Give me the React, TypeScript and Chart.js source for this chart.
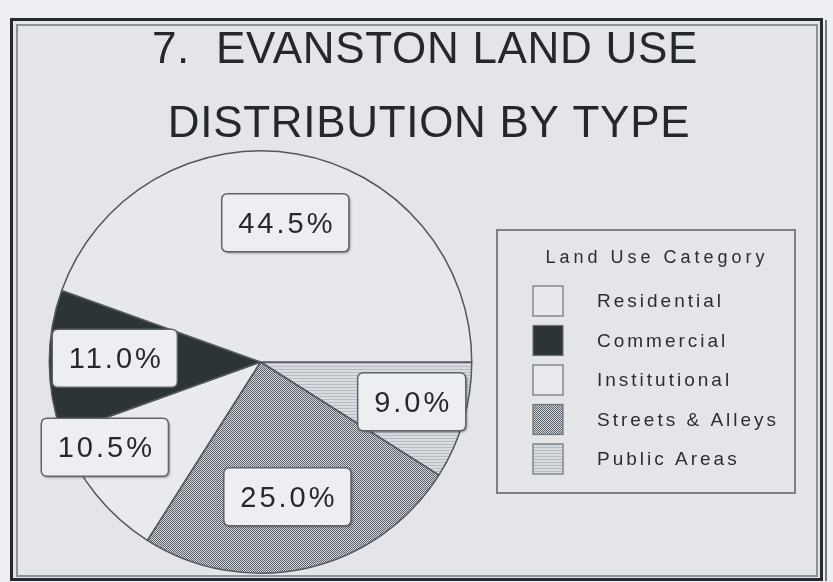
import React, { useEffect, useRef } from 'react';
import { Chart, registerables } from 'chart.js';

Chart.register(...registerables);

// ---- data (pie is drawn clockwise from 3 o'clock in this order) ----
const categories = ['Public Areas', 'Streets & Alleys', 'Institutional', 'Commercial', 'Residential'];
const shares = [9.0, 25.0, 10.5, 11.0, 44.5];
const titleLines = ['7.  EVANSTON LAND USE', 'DISTRIBUTION BY TYPE'];
const legendTitle = 'Land Use Category';
const legendOrder = [4, 3, 2, 1, 0];

// ---- label placement (style only) ----
const labelRadius = [0.74, 0.65, 0.84, 0.69, 0.67];
const labelTurnDeg = [-1.5, 1.3, 10, 1.5, 0.2];

const BG = '#e3e5e9';
const PAGE = '#eceef1';
const INK = '#24272c';
const FONT = '"Liberation Sans", Arial, Helvetica, sans-serif';

function tile(w: number, h: number, paint: (c: CanvasRenderingContext2D) => void): CanvasPattern | string {
  const cv = document.createElement('canvas');
  cv.width = w;
  cv.height = h;
  const c = cv.getContext('2d');
  if (!c) return '#cccccc';
  paint(c);
  const p = c.createPattern(cv, 'repeat');
  return p || '#cccccc';
}

function makeFills(): (CanvasPattern | string)[] {
  const publicAreas = tile(4, 3, (c) => {
    c.fillStyle = '#d8dbdf';
    c.fillRect(0, 0, 4, 3);
    c.fillStyle = '#b7bbc1';
    c.fillRect(0, 0, 4, 1);
  });
  const streets = tile(2, 2, (c) => {
    c.fillStyle = '#d2d5d9';
    c.fillRect(0, 0, 2, 2);
    c.fillStyle = '#5d6269';
    c.fillRect(0, 0, 1, 1);
    c.fillRect(1, 1, 1, 1);
  });
  return [publicAreas, streets, '#e8eaed', '#2c3437', '#e6e8eb'];
}

function roundRect(ctx: CanvasRenderingContext2D, x: number, y: number, w: number, h: number, r: number) {
  ctx.beginPath();
  ctx.moveTo(x + r, y);
  ctx.lineTo(x + w - r, y);
  ctx.quadraticCurveTo(x + w, y, x + w, y + r);
  ctx.lineTo(x + w, y + h - r);
  ctx.quadraticCurveTo(x + w, y + h, x + w - r, y + h);
  ctx.lineTo(x + r, y + h);
  ctx.quadraticCurveTo(x, y + h, x, y + h - r);
  ctx.lineTo(x, y + r);
  ctx.quadraticCurveTo(x, y, x + r, y);
  ctx.closePath();
}

const framePlugin = {
  id: 'frameAndTitle',
  beforeDraw(chart: any) {
    const ctx: CanvasRenderingContext2D = chart.ctx;
    const W = chart.width;
    const H = chart.height;
    ctx.save();
    ctx.fillStyle = PAGE;
    ctx.fillRect(0, 0, W, H);
    ctx.fillStyle = BG;
    ctx.fillRect(12, 20, 810, 560);
    // outer dark frame
    ctx.strokeStyle = '#262a30';
    ctx.lineWidth = 3;
    ctx.strokeRect(11.5, 19.5, 810, 560);
    // inner grey frame
    ctx.strokeStyle = '#8c9097';
    ctx.lineWidth = 2;
    ctx.strokeRect(17, 25, 800, 551);
    // extra right edge line
    ctx.strokeStyle = '#4a4e55';
    ctx.lineWidth = 1.5;
    ctx.beginPath();
    ctx.moveTo(826, 20);
    ctx.lineTo(826, 581);
    ctx.stroke();
    ctx.restore();
  },
  afterDraw(chart: any) {
    const ctx: CanvasRenderingContext2D = chart.ctx;
    ctx.save();
    // title
    ctx.fillStyle = INK;
    ctx.font = `44px ${FONT}`;
    (ctx as any).letterSpacing = '0.7px';
    ctx.textAlign = 'center';
    ctx.textBaseline = 'alphabetic';
    ctx.fillText(titleLines[0], 425, 63);
    ctx.fillText(titleLines[1], 429, 137);

    // legend
    const fills = chart.data.datasets[0].backgroundColor;
    const bx = 497, by = 230, bw = 298, bh = 263;
    ctx.strokeStyle = '#7b7f86';
    ctx.lineWidth = 2;
    ctx.strokeRect(bx, by, bw, bh);
    ctx.fillStyle = '#2a2d33';
    ctx.font = `18px ${FONT}`;
    (ctx as any).letterSpacing = '4px';
    ctx.textAlign = 'center';
    ctx.fillText(legendTitle, 657, 263);

    ctx.font = `19px ${FONT}`;
    (ctx as any).letterSpacing = '3px';
    ctx.textAlign = 'left';
    ctx.textBaseline = 'middle';
    legendOrder.forEach((idx, row) => {
      const top = 286 + row * 39.5;
      ctx.fillStyle = fills[idx];
      ctx.fillRect(533, top, 30, 30);
      ctx.strokeStyle = '#6d7178';
      ctx.lineWidth = 1.2;
      ctx.strokeRect(533, top, 30, 30);
      ctx.fillStyle = '#2a2d33';
      ctx.fillText(chart.data.labels[idx], 597, top + 16);
    });
    ctx.restore();
  },
};

const labelPlugin = {
  id: 'shareLabels',
  afterDatasetsDraw(chart: any) {
    const ctx: CanvasRenderingContext2D = chart.ctx;
    const meta = chart.getDatasetMeta(0);
    const values: number[] = chart.data.datasets[0].data;
    ctx.save();
    ctx.font = `29px ${FONT}`;
    (ctx as any).letterSpacing = '3px';
    meta.data.forEach((arc: any, i: number) => {
      const p = arc.getProps(['x', 'y', 'startAngle', 'endAngle', 'outerRadius'], true);
      const mid = (p.startAngle + p.endAngle) / 2 + (labelTurnDeg[i] * Math.PI) / 180;
      const r = p.outerRadius * labelRadius[i];
      const cx = p.x + Math.cos(mid) * r;
      const cy = p.y + Math.sin(mid) * r;
      const text = values[i].toFixed(1) + '%';
      const tw = ctx.measureText(text).width;
      const w = tw + 30;
      const h = 58;
      ctx.save();
      ctx.shadowColor = 'rgba(40,44,50,0.45)';
      ctx.shadowOffsetX = 1.5;
      ctx.shadowOffsetY = 1.5;
      ctx.shadowBlur = 2;
      roundRect(ctx, cx - w / 2, cy - h / 2, w, h, 6);
      ctx.fillStyle = '#eceef1';
      ctx.fill();
      ctx.restore();
      roundRect(ctx, cx - w / 2, cy - h / 2, w, h, 6);
      ctx.strokeStyle = '#5f636a';
      ctx.lineWidth = 1.5;
      ctx.stroke();
      ctx.fillStyle = '#25282d';
      ctx.textAlign = 'center';
      ctx.textBaseline = 'middle';
      ctx.fillText(text, cx + 1.5, cy + 2);
    });
    ctx.restore();
  },
};

export default function App() {
  const ref = useRef<HTMLCanvasElement | null>(null);
  useEffect(() => {
    if (!ref.current) return;
    const chart = new Chart(ref.current, {
      type: 'pie',
      data: {
        labels: categories,
        datasets: [
          {
            data: shares,
            backgroundColor: makeFills(),
            borderColor: '#53575e',
            borderWidth: 1.5,
            borderAlign: 'center',
          },
        ],
      },
      options: {
        responsive: false,
        animation: false,
        devicePixelRatio: 1,
        rotation: 90,
        layout: { padding: { top: 150, left: 48, right: 360, bottom: 8 } },
        plugins: {
          legend: { display: false },
          title: { display: false },
          tooltip: { enabled: false },
        },
      },
      plugins: [framePlugin, labelPlugin],
    } as any);
    return () => chart.destroy();
  }, []);
  return (
    <div style={{ position: 'absolute', left: 0, top: 0, width: 833, height: 582 }}>
      <canvas ref={ref} width={833} height={582} />
    </div>
  );
}
